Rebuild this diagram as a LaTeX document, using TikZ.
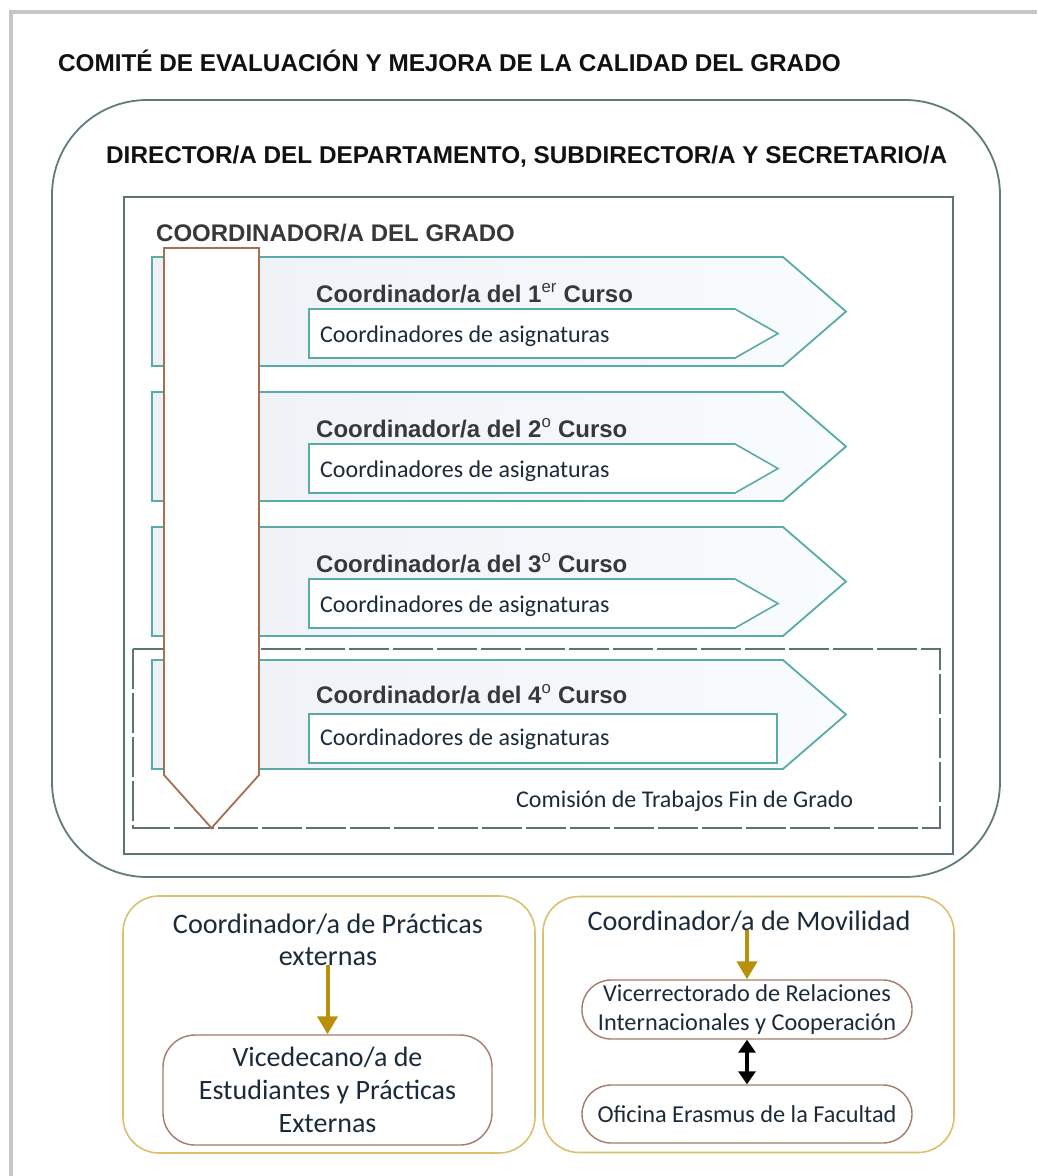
\documentclass[tikz,border=0pt]{standalone}
\usepackage{fontspec}
\setmainfont{Liberation Sans}
\newfontfamily\calfont{Carlito}
\usetikzlibrary{arrows.meta}
\definecolor{pageframe}{HTML}{C6C6C6}
\definecolor{outerline}{HTML}{5F7C7C}
\definecolor{innerline}{HTML}{5E7474}
\definecolor{tealline}{HTML}{5AAAA7}
\definecolor{chevL}{HTML}{EDF0F6}
\definecolor{chevR}{HTML}{F9FCFD}
\definecolor{brownline}{HTML}{A86E50}
\definecolor{goldline}{HTML}{DCC06E}
\definecolor{goldarrow}{HTML}{B8900C}
\definecolor{boxbrown}{HTML}{A57C6C}
\definecolor{navytext}{HTML}{1C2B3A}
\definecolor{headtext}{HTML}{111111}
\definecolor{subtext}{HTML}{383838}
\begin{document}
\begin{tikzpicture}[x=1pt,y=-1pt,
  hd/.style={font=\fontsize{24.3}{28}\selectfont\bfseries, text=headtext, inner sep=0pt, anchor=base west},
  chtitle/.style={font=\fontsize{24}{28}\selectfont\bfseries, text=subtext, inner sep=0pt, anchor=base west},
  caltext/.style={font=\calfont\fontsize{24}{28}\selectfont, text=navytext, inner sep=0pt, anchor=base west},
  bigcal/.style={font=\calfont\fontsize{28.2}{33}\selectfont, text=navytext, inner sep=0pt, anchor=base},
  chevron/.style={draw=tealline, line width=1.8pt, left color=chevL, right color=chevR},
  subchev/.style={draw=tealline, line width=1.6pt, fill=white},
  goldbox/.style={draw=goldline, line width=1.6pt, rounded corners=36pt},
  brownbox/.style={draw=boxbrown, line width=1.4pt, fill=white, text=navytext, align=center},
  goldarr/.style={draw=goldarrow, line width=4pt, -{Triangle[width=20pt,length=18pt]}},
  dblarr/.style={draw=black, line width=4pt, {Triangle[width=17pt,length=13pt]}-{Triangle[width=17pt,length=13pt]}}
]
\useasboundingbox (0,0) rectangle (1037,1176);
\fill[white] (0,0) rectangle (1037,1176);
% page frame
\draw[pageframe, line width=4pt] (10.5,1176) -- (10.5,12) -- (1037,12);

% title
\node[hd] (title) at (58,71) {COMITÉ DE EVALUACIÓN Y MEJORA DE LA CALIDAD DEL GRADO};

% outer rounded box
\draw[outerline, line width=1.8pt, rounded corners=95pt] (52,100) rectangle (1000,877);
\node[hd] (director) at (106,163) {DIRECTOR/A DEL DEPARTAMENTO, SUBDIRECTOR/A Y SECRETARIO/A};

% inner box
\draw[innerline, line width=1.8pt] (124,197) rectangle (953,854);
\node[hd, text=subtext, font=\fontsize{24}{28}\selectfont\bfseries] (grado) at (156,241) {COORDINADOR/A DEL GRADO};

% comision dashed box
\draw[innerline, line width=1.6pt, dash pattern=on 40pt off 4pt] (133,649) rectangle (940,828);

% chevrons
\foreach \t in {257,392,527,660}{
  \draw[chevron] (152,\t) -- (783,\t) -- (846,\t+54.5) -- (783,\t+109) -- (152,\t+109) -- cycle;
}
\foreach \s in {309,444,579}{
  \draw[subchev] (309,\s) -- (735,\s) -- (778,\s+24.5) -- (735,\s+49) -- (309,\s+49) -- cycle;
}
\draw[subchev] (309,714) rectangle (777,763);

% vertical brown arrow
\draw[brownline, line width=1.8pt, fill=white] (164,248) -- (259,248) -- (259,775) -- (211.5,828) -- (164,775) -- cycle;

% chevron texts
\node[chtitle] (c1) at (316,302) {Coordinador/a del 1\textsuperscript{\mdseries er} Curso};
\node[caltext] (a1) at (320,342) {Coordinadores de asignaturas};
\node[chtitle] (c2) at (316,437) {Coordinador/a del 2\textsuperscript{\mdseries o} Curso};
\node[caltext] (a2) at (320,477) {Coordinadores de asignaturas};
\node[chtitle] (c3) at (316,572) {Coordinador/a del 3\textsuperscript{\mdseries o} Curso};
\node[caltext] (a3) at (320,612) {Coordinadores de asignaturas};
\node[chtitle] (c4) at (316,703) {Coordinador/a del 4\textsuperscript{\mdseries o} Curso};
\node[caltext] (a4) at (320,745) {Coordinadores de asignaturas};
\node[caltext] (tfg) at (516,807) {Comisión de Trabajos Fin de Grado};

% bottom left box
\node[goldbox, minimum width=412pt, minimum height=257pt] (practbox) at (329,1024.5) {};
\node[bigcal] (practA) at (328,933) {Coordinador/a de Prácticas};
\node[bigcal] (practB) at (328,965) {externas};
\node[brownbox, rounded corners=32pt, minimum width=329pt, minimum height=110pt,
      font=\calfont\fontsize{28}{33}\selectfont] (vice) at (327.5,1090)
      {Vicedecano/a de\\Estudiantes y Prácticas\\Externas};
\draw[goldarr] (vice.north |- practB.base) -- (vice.north);

% bottom right box
\node[goldbox, minimum width=411pt, minimum height=256pt] (movbox) at (748.5,1024.5) {};
\node[bigcal] (movT) at (749,930) {Coordinador/a de Movilidad};
\node[brownbox, rounded corners=29pt, minimum width=330pt, minimum height=59pt,
      font=\calfont\fontsize{24.3}{29}\selectfont] (vicerr) at (747,1009.5)
      {Vicerrectorado de Relaciones\\Internacionales y Cooperación};
\node[brownbox, rounded corners=29pt, minimum width=330pt, minimum height=58pt,
      font=\calfont\fontsize{24.3}{29}\selectfont] (erasmus) at (747,1114)
      {Oficina Erasmus de la Facultad};
\draw[goldarr] (vicerr.north |- movT.base) -- (vicerr.north);
\draw[dblarr] (vicerr.south) -- (erasmus.north);
\end{tikzpicture}
\end{document}
